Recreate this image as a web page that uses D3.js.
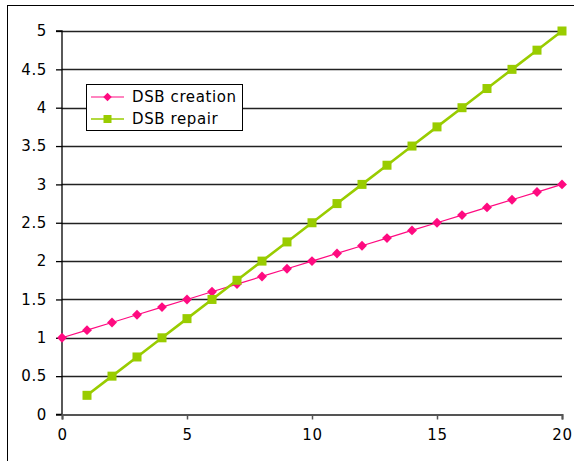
<!DOCTYPE html>
<html>
<head>
<meta charset="utf-8">
<script src="https://cdn.jsdelivr.net/npm/d3@7/dist/d3.min.js"></script>
<style>
  html, body { margin: 0; padding: 0; background: #fff; }
  svg { display: block; }
  text { font-family: "DejaVu Sans", Verdana, sans-serif; font-size: 15px; fill: #000; letter-spacing: 0.6px; }
</style>
</head>
<body>
<svg id="chart" width="574" height="461"></svg>
<script>
// DSB creation vs. repair over time
const creationX = [0, 1, 2, 3, 4, 5, 6, 7, 8, 9, 10, 11, 12, 13, 14, 15, 16, 17, 18, 19, 20];
const creationY = [1, 1.1, 1.2, 1.3, 1.4, 1.5, 1.6, 1.7, 1.8, 1.9, 2, 2.1, 2.2, 2.3, 2.4, 2.5, 2.6, 2.7, 2.8, 2.9, 3];
const repairX = [1, 2, 3, 4, 5, 6, 7, 8, 9, 10, 11, 12, 13, 14, 15, 16, 17, 18, 19, 20];
const repairY = [0.25, 0.5, 0.75, 1, 1.25, 1.5, 1.75, 2, 2.25, 2.5, 2.75, 3, 3.25, 3.5, 3.75, 4, 4.25, 4.5, 4.75, 5];
const xTicks = [0, 5, 10, 15, 20];
const yTicks = [0, 0.5, 1, 1.5, 2, 2.5, 3, 3.5, 4, 4.5, 5];
const seriesNames = ["DSB creation", "DSB repair"];

const pink = "#ff0a80";
const green = "#99cc00";

const svg = d3.select("#chart");

// outer chart frame
svg.append("rect")
  .attr("x", 7.5).attr("y", 5.5)
  .attr("width", 600).attr("height", 500)
  .attr("fill", "none").attr("stroke", "#000").attr("stroke-width", 1);

const x = d3.scaleLinear().domain([0, 20]).range([62, 562]);
const y = d3.scaleLinear().domain([0, 5]).range([414.5, 31]);

// horizontal gridlines
svg.append("g").selectAll("line")
  .data(yTicks.filter(d => d > 0))
  .join("line")
  .attr("x1", x(0)).attr("x2", x(20))
  .attr("y1", d => Math.round(y(d)) + 0.5).attr("y2", d => Math.round(y(d)) + 0.5)
  .attr("stroke", "#222").attr("stroke-width", 1.3);

// y axis
const yAxis = svg.append("g")
  .attr("transform", `translate(${x(0)},0)`)
  .call(d3.axisLeft(y).tickValues(yTicks).tickSize(6).tickPadding(9)
    .tickFormat(d => String(d)));
yAxis.select(".domain").attr("stroke", "#000").attr("stroke-width", 1.3);
yAxis.selectAll(".tick line").attr("stroke", "#000").attr("stroke-width", 1.3);
yAxis.selectAll("text").style("font-size", "15px").attr("fill", "#000");
yAxis.select(".domain").attr("d", `M-6,${y(5)}H0V${y(0)}H-6`);

// x axis
const xAxis = svg.append("g")
  .attr("transform", `translate(0,${y(0)})`)
  .call(d3.axisBottom(x).tickValues(xTicks).tickSize(5).tickPadding(10).tickSizeOuter(5));
xAxis.select(".domain").attr("stroke", "#555").attr("stroke-width", 2);
xAxis.selectAll(".tick line").attr("stroke", "#555").attr("stroke-width", 1.5);
xAxis.selectAll("text").style("font-size", "15px").attr("fill", "#000");

const creation = creationX.map((d, i) => [d, creationY[i]]);
const repair = repairX.map((d, i) => [d, repairY[i]]);
const line = d3.line().x(d => x(d[0])).y(d => y(d[1]));

// DSB creation: thin pink line with diamond markers
svg.append("path").datum(creation)
  .attr("d", line).attr("fill", "none").attr("stroke", pink).attr("stroke-width", 1.2);
svg.append("g").selectAll("path")
  .data(creation).join("path")
  .attr("transform", d => `translate(${x(d[0])},${y(d[1])}) rotate(45)`)
  .attr("d", "M-3.5,-3.5H3.5V3.5H-3.5Z")
  .attr("fill", pink);

// DSB repair: thick green line with square markers
svg.append("path").datum(repair)
  .attr("d", line).attr("fill", "none").attr("stroke", green).attr("stroke-width", 2.6);
svg.append("g").selectAll("rect")
  .data(repair).join("rect")
  .attr("x", d => x(d[0]) - 4.5).attr("y", d => y(d[1]) - 4.5)
  .attr("width", 9).attr("height", 9)
  .attr("fill", green);

// legend
const legend = svg.append("g");
legend.append("rect")
  .attr("x", 86.5).attr("y", 84.5).attr("width", 156).attr("height", 46)
  .attr("fill", "#fff").attr("stroke", "#000").attr("stroke-width", 1);
const legendRows = [
  { name: seriesNames[0], color: pink, y: 97, shape: "diamond", w: 1.2 },
  { name: seriesNames[1], color: green, y: 119, shape: "square", w: 1.5 }
];
legendRows.forEach(r => {
  legend.append("line")
    .attr("x1", 91).attr("x2", 124).attr("y1", r.y).attr("y2", r.y)
    .attr("stroke", r.color).attr("stroke-width", r.w);
  if (r.shape === "diamond") {
    legend.append("path")
      .attr("transform", `translate(107.5,${r.y}) rotate(45)`)
      .attr("d", "M-3,-3H3V3H-3Z").attr("fill", r.color);
  } else {
    legend.append("rect")
      .attr("x", 103.5).attr("y", r.y - 4).attr("width", 8).attr("height", 8)
      .attr("fill", r.color);
  }
  legend.append("text")
    .attr("x", 132).attr("y", r.y).attr("dy", "0.36em")
    .text(r.name);
});
</script>
</body>
</html>
